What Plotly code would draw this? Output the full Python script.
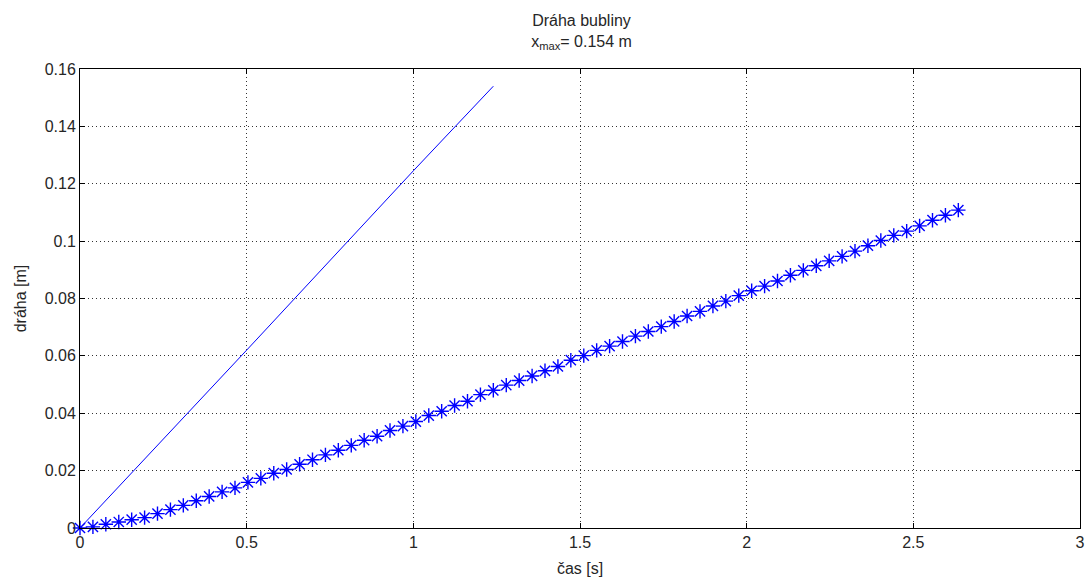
import plotly.graph_objects as go

# time samples of the bubble path (s)
t_bubble = [0, 0.0388, 0.0775, 0.1163, 0.155, 0.1938, 0.2325, 0.2713, 0.31, 0.3488,
            0.3875, 0.4263, 0.465, 0.5038, 0.5425, 0.5813, 0.62, 0.6588, 0.6975, 0.7363,
            0.775, 0.8138, 0.8525, 0.8913, 0.93, 0.9688, 1.0075, 1.0463, 1.085, 1.1238,
            1.1625, 1.2013, 1.24, 1.2788, 1.3175, 1.3563, 1.395, 1.4338, 1.4725, 1.5113,
            1.55, 1.5888, 1.6275, 1.6663, 1.705, 1.7438, 1.7825, 1.8213, 1.86, 1.8988,
            1.9375, 1.9763, 2.015, 2.0538, 2.0925, 2.1313, 2.17, 2.2088, 2.2475, 2.2863,
            2.325, 2.3638, 2.4025, 2.4413, 2.48, 2.5188, 2.5575, 2.5963, 2.635]

# bubble path (m)
x_bubble = [0, 0.0004, 0.0013, 0.0021, 0.0029, 0.0036, 0.0050, 0.0064, 0.0079, 0.0095,
            0.0110, 0.0126, 0.0140, 0.0159, 0.0173, 0.0191, 0.0204, 0.0222, 0.0238, 0.0255,
            0.0271, 0.0288, 0.0306, 0.0320, 0.0340, 0.0355, 0.0371, 0.0392, 0.0407, 0.0427,
            0.0442, 0.0465, 0.0480, 0.0498, 0.0514, 0.0530, 0.0548, 0.0563, 0.0585, 0.0601,
            0.0619, 0.0634, 0.0650, 0.0669, 0.0685, 0.0702, 0.0720, 0.0739, 0.0755, 0.0774,
            0.0791, 0.0810, 0.0827, 0.0843, 0.0861, 0.0881, 0.0898, 0.0914, 0.0931, 0.0947,
            0.0965, 0.0984, 0.1002, 0.1020, 0.1035, 0.1053, 0.1073, 0.1090, 0.1108]

# straight line
t_line = [0, 0.5, 1.0, 1.24]
x_line = [0, 0.062, 0.1245, 0.154]

FONT = "Liberation Sans, Arial, sans-serif"
TXT = "#262626"

fig = go.Figure()
fig.add_trace(go.Scatter(x=t_line, y=x_line, mode="lines",
                         line=dict(color="#0000ff", width=1), showlegend=False))
fig.add_trace(go.Scatter(x=t_bubble, y=x_bubble, mode="markers",
                         marker=dict(symbol="asterisk-open", size=12, color="#0000ff",
                                     line=dict(color="#0000ff", width=1.4)),
                         cliponaxis=False, showlegend=False))

axis_common = dict(showline=True, linecolor="black", linewidth=1, mirror="ticks",
                   ticks="inside", ticklen=5, tickcolor="black", tickwidth=1,
                   showgrid=True, gridcolor="#333333", gridwidth=1, griddash="1px,3px",
                   zeroline=False, automargin=False,
                   tickfont=dict(family=FONT, size=16, color=TXT))

fig.update_xaxes(range=[0, 3], dtick=0.5, tick0=0,
                 title=dict(text="čas [s]", font=dict(family=FONT, size=16, color=TXT), standoff=12),
                 **axis_common)
fig.update_yaxes(range=[0, 0.16], dtick=0.02, tick0=0,
                 title=dict(text="dráha [m]", font=dict(family=FONT, size=16, color=TXT), standoff=14),
                 **axis_common)

fig.update_layout(
    width=1091, height=581,
    margin=dict(l=80, r=11, t=69, b=53),
    paper_bgcolor="white", plot_bgcolor="white",
    title=dict(text="Dráha bubliny<br>x<sub>max</sub>= 0.154 m", x=0.533, xanchor="center",
               y=0.955, yanchor="top", font=dict(family=FONT, size=16, color=TXT)),
)

fig.write_html("out.html", config={"displayModeBar": False},
               post_script="document.body.style.margin='0';document.body.style.overflow='hidden';")
